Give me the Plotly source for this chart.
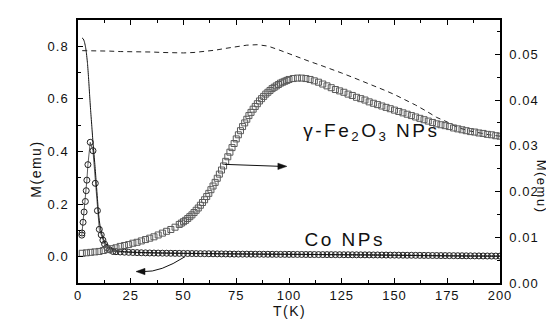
import plotly.graph_objects as go

# ---------------- data ----------------
# gamma-Fe2O3 NPs ZFC (open squares, right axis)
T_sq = [2, 4, 6, 8, 10, 12, 14, 16, 18, 20, 22, 24, 26, 28, 30, 32, 34, 36, 38, 40, 42, 44, 46,
        48, 49, 50, 51, 52, 53, 54, 55, 56, 57, 58, 59, 60, 61, 62, 63, 64, 65, 66, 67, 68, 69,
        70, 71, 72, 73, 74, 75, 76, 77, 78, 79, 80, 81, 82, 83, 84, 85, 86, 87, 88, 89, 90, 91,
        92, 93, 94, 95, 96, 97, 98, 99, 100,
        102, 104, 106, 108, 110, 112, 114, 116, 118, 120, 122, 124, 126, 128, 130, 132, 134, 136,
        138, 140, 142, 144, 146, 148, 150, 152, 154, 156, 158, 160, 162, 164, 166, 168, 170, 172,
        174, 176, 178, 180, 182, 184, 186, 188, 190, 192, 194, 196, 198, 200]
M_sq = [0.0065, 0.0066, 0.0067, 0.0068, 0.0069, 0.0071, 0.0073, 0.0075, 0.0077, 0.0080, 0.0082,
        0.0084, 0.0087, 0.0089, 0.0092, 0.0095, 0.0098, 0.0101, 0.0105, 0.0109, 0.0113, 0.0117,
        0.0122,
        0.0128, 0.0131, 0.0134, 0.0137, 0.0141, 0.0145, 0.0149, 0.0154, 0.0159, 0.0164, 0.0170,
        0.0176, 0.0182, 0.0189, 0.0196, 0.0204, 0.0212, 0.0220, 0.0229, 0.0238, 0.0247, 0.0256,
        0.0266, 0.0276, 0.0286, 0.0296, 0.0305, 0.0315, 0.0324, 0.0333, 0.0342, 0.0350, 0.0358,
        0.0366, 0.0373, 0.0380, 0.0386, 0.0392, 0.0398, 0.0403, 0.0408, 0.0413, 0.0417, 0.0421,
        0.0425, 0.0428, 0.0431, 0.0434, 0.0437, 0.0439, 0.0441, 0.0443, 0.0445,
        0.0447, 0.0448, 0.0448, 0.0447, 0.0445, 0.0442, 0.0439, 0.0435, 0.0431, 0.0427, 0.0423,
        0.0420, 0.0417, 0.0413, 0.0410, 0.0406, 0.0403, 0.0400, 0.0396, 0.0393, 0.0390, 0.0387,
        0.0384, 0.0381, 0.0378, 0.0375, 0.0372, 0.0369, 0.0366, 0.0363, 0.0360, 0.0357, 0.0354,
        0.0351, 0.0348, 0.0346, 0.0344, 0.0342, 0.0339, 0.0337, 0.0335, 0.0333, 0.0331, 0.0330,
        0.0328, 0.0327, 0.0325, 0.0324, 0.0322, 0.0321]

# gamma-Fe2O3 NPs FC (dashed line, right axis)
T_fc_fe = [2, 5, 10, 15, 20, 25, 30, 35, 40, 45, 50, 55, 60, 65, 70, 75, 80, 85, 90, 95, 100,
           105, 110, 115, 120, 125, 130, 135, 140, 145, 150, 155, 160, 165, 170, 175, 180, 185,
           190, 195, 200]
M_fc_fe = [0.0508, 0.0508, 0.0507, 0.0507, 0.0506, 0.0506, 0.0505, 0.0505, 0.0504, 0.0503,
           0.0503, 0.0504, 0.0506, 0.0509, 0.0513, 0.0517, 0.0520, 0.0521, 0.0518, 0.0510,
           0.0501, 0.0492, 0.0484, 0.0476, 0.0468, 0.0459, 0.0450, 0.0441, 0.0431, 0.0422,
           0.0412, 0.0401, 0.0389, 0.0376, 0.0362, 0.0352, 0.0340, 0.0333, 0.0328, 0.0324,
           0.0321]

# Co NPs ZFC (open circles, left axis)
T_co = [1.8, 1.9, 2.4, 2.9, 3.5, 3.9, 4.2, 4.7, 5.8, 7.1, 8.2, 9.2, 10.1, 11.0, 11.8, 12.6,
        13.6, 15.0, 16.6,
        18, 20, 22, 24, 26, 28, 30, 32, 34, 36, 38, 40, 42, 44, 46, 48, 50, 52, 54, 56, 58, 60,
        62, 64, 66, 68, 70, 72, 74, 76, 78, 80, 82, 84, 86, 88, 90, 92, 94, 96, 98, 100, 102,
        104, 106, 108, 110, 112, 114, 116, 118, 120, 122, 124, 126, 128, 130, 132, 134, 136,
        138, 140, 142, 144, 146, 148, 150, 152, 154, 156, 158, 160, 162, 164, 166, 168, 170,
        172, 174, 176, 178, 180, 182, 184, 186, 188, 190, 192, 194, 196, 198, 200]
M_co = [0.082, 0.090, 0.131, 0.170, 0.210, 0.251, 0.291, 0.350, 0.435, 0.403, 0.279, 0.175,
        0.104, 0.083, 0.063, 0.048, 0.035, 0.026, 0.020,
        0.0190, 0.0180, 0.0172, 0.0166, 0.0160, 0.0155, 0.0150, 0.0146, 0.0142, 0.0139, 0.0136,
        0.0134, 0.0132, 0.0130, 0.0128, 0.0126, 0.0124, 0.0122, 0.0120, 0.0118, 0.0116, 0.0114,
        0.0112, 0.0110, 0.0108, 0.0106, 0.0104, 0.0102, 0.0100, 0.0099, 0.0098, 0.0097, 0.0096,
        0.0095, 0.0094, 0.0093, 0.0092, 0.0091, 0.0090, 0.0089, 0.0089, 0.0088, 0.0087, 0.0086,
        0.0085, 0.0084, 0.0083, 0.0082, 0.0081, 0.0080, 0.0079, 0.0078, 0.0077, 0.0076, 0.0075,
        0.0074, 0.0073, 0.0072, 0.0071, 0.0070, 0.0069, 0.0067, 0.0066, 0.0064, 0.0063, 0.0061,
        0.0060, 0.0058, 0.0057, 0.0055, 0.0054, 0.0052, 0.0051, 0.0049, 0.0048, 0.0046, 0.0045,
        0.0043, 0.0042, 0.0040, 0.0039, 0.0037, 0.0036, 0.0034, 0.0033, 0.0031, 0.0030, 0.0028,
        0.0027, 0.0025, 0.0024, 0.0022]

# Co NPs FC (solid line, left axis)
T_fc_co = [1.9, 2.5, 3.0, 3.5, 3.9, 4.5, 5.0, 5.5, 6.0, 6.6, 7.1, 7.6, 8.2, 8.7, 9.2, 9.8,
           10.4, 11.0, 11.8, 12.6, 14.0, 15.8, 18, 22, 30, 40, 60, 80, 100, 133, 150, 175, 200]
M_fc_co = [0.832, 0.828, 0.818, 0.800, 0.780, 0.735, 0.680, 0.616, 0.555, 0.490, 0.435, 0.388,
           0.330, 0.274, 0.222, 0.159, 0.120, 0.096, 0.072, 0.058, 0.040, 0.030, 0.024, 0.019,
           0.016, 0.014, 0.012, 0.010, 0.009, 0.007, 0.0055, 0.003, 0.002]

x_ticks = [0, 25, 50, 75, 100, 125, 150, 175, 200]
y_left_ticks = [0.0, 0.2, 0.4, 0.6, 0.8]
y_right_ticks = [0.00, 0.01, 0.02, 0.03, 0.04, 0.05]

# ---------------- figure ----------------
FONT = "Liberation Sans, Arial, sans-serif"
INK = "#111"
fig = go.Figure()

fig.add_trace(go.Scatter(x=T_fc_fe, y=M_fc_fe, yaxis="y2", mode="lines",
                         line=dict(color="#222", width=1, dash="5px,4px"),
                         showlegend=False))
fig.add_trace(go.Scatter(x=T_sq, y=M_sq, yaxis="y2", mode="markers",
                         marker=dict(symbol="square-open", size=6, color="#5a5a5a",
                                     line=dict(width=1)),
                         showlegend=False))
fig.add_trace(go.Scatter(x=T_co, y=M_co, mode="lines+markers",
                         line=dict(color="#333", width=0.8),
                         marker=dict(symbol="circle-open", size=6, color="#222",
                                     line=dict(width=1)),
                         showlegend=False))
fig.add_trace(go.Scatter(x=T_fc_co, y=M_fc_co, mode="lines",
                         line=dict(color=INK, width=1, shape="spline", smoothing=0.6),
                         showlegend=False))

axis_common = dict(showgrid=False, zeroline=False, showline=True, linecolor="black",
                   linewidth=1.5, ticks="inside", tickcolor="black", tickwidth=1.2,
                   tickfont=dict(family=FONT, size=13, color=INK))

fig.update_layout(
    width=554, height=321,
    margin=dict(l=70, r=62, t=10, b=46),
    paper_bgcolor="white", plot_bgcolor="white",
    font=dict(family=FONT, color=INK),
    xaxis=dict(range=[0, 200], tickvals=x_ticks, ticklen=5, mirror="ticks",
               minor=dict(dtick=12.5, tick0=0, ticklen=3, ticks="inside", tickcolor="black"),
               **axis_common),
    yaxis=dict(range=[-0.1, 0.9], tickvals=y_left_ticks, tickformat=".1f", ticklen=5,
               minor=dict(dtick=0.1, tick0=0, ticklen=3, ticks="inside", tickcolor="black"),
               ticklabelstandoff=5, **axis_common),
    yaxis2=dict(range=[0, 0.0575], tickvals=y_right_ticks, tickformat=".2f", ticklen=5,
                overlaying="y", side="right",
                minor=dict(dtick=0.005, tick0=0, ticklen=3, ticks="inside", tickcolor="black"),
                ticklabelstandoff=5, **axis_common),
)

ann = [
    dict(text="γ-Fe<sub>2</sub>O<sub>3</sub> NPs", x=139, y=0.475, xref="x", yref="y",
         showarrow=False, font=dict(family=FONT, size=19, color=INK)),
    dict(text="Co NPs", x=126.5, y=0.064, xref="x", yref="y",
         showarrow=False, font=dict(family=FONT, size=19, color=INK)),
    dict(text="M(emu)", x=-0.1225, y=0.434, xref="paper", yref="paper", textangle=-90,
         showarrow=False, font=dict(family=FONT, size=14, color=INK)),
    dict(text="M(emu)", x=1.121, y=0.366, xref="paper", yref="paper", textangle=90,
         showarrow=False, font=dict(family=FONT, size=13, color=INK)),
    dict(text="T(K)", x=0.5, y=-0.145, xref="paper", yref="paper",
         showarrow=False, font=dict(family=FONT, size=14, color=INK)),
]
fig.update_layout(annotations=ann)

# arrow pointing to the right axis (gamma-Fe2O3 curve)
fig.add_shape(type="line", xref="x", yref="y2", xsizemode="pixel", ysizemode="pixel",
              xanchor=99, yanchor=0.0255, x0=-62, y0=2, x1=-6, y1=0,
              line=dict(color=INK, width=1))
fig.add_shape(type="path", xref="x", yref="y2", xsizemode="pixel", ysizemode="pixel",
              xanchor=99, yanchor=0.0255, path="M 0,0 L -9,3.2 L -9,-3.2 Z",
              fillcolor=INK, line=dict(color=INK, width=0.5))

# curved arrow pointing to the left axis (Co curve)
fig.add_shape(type="path", xref="x", yref="y",
              path="M 50.7,0.0 Q 39,-0.060 31,-0.0565",
              line=dict(color=INK, width=1))
fig.add_shape(type="path", xref="x", yref="y", xsizemode="pixel", ysizemode="pixel",
              xanchor=27.5, yanchor=-0.0565, path="M 0,0 L 9,3.2 L 9,-3.2 Z",
              fillcolor=INK, line=dict(color=INK, width=0.5))

post = """
var gd = document.getElementById('{plot_id}');
function sp(){
  gd.querySelectorAll('.xtick text, .ytick text, .y2tick text').forEach(function(t){t.style.letterSpacing='1px';});
  gd.querySelectorAll('g.annotation').forEach(function(g){
    var i = parseInt(g.getAttribute('data-index'));
    var t = g.querySelector('text.annotation-text');
    if(!t) return;
    t.style.letterSpacing = (i < 2) ? '2.5px' : '1.5px';
  });
}
sp(); setTimeout(sp, 30); setTimeout(sp, 200);
gd.on('plotly_afterplot', sp);
"""
fig.write_html("out.html", post_script=post)
